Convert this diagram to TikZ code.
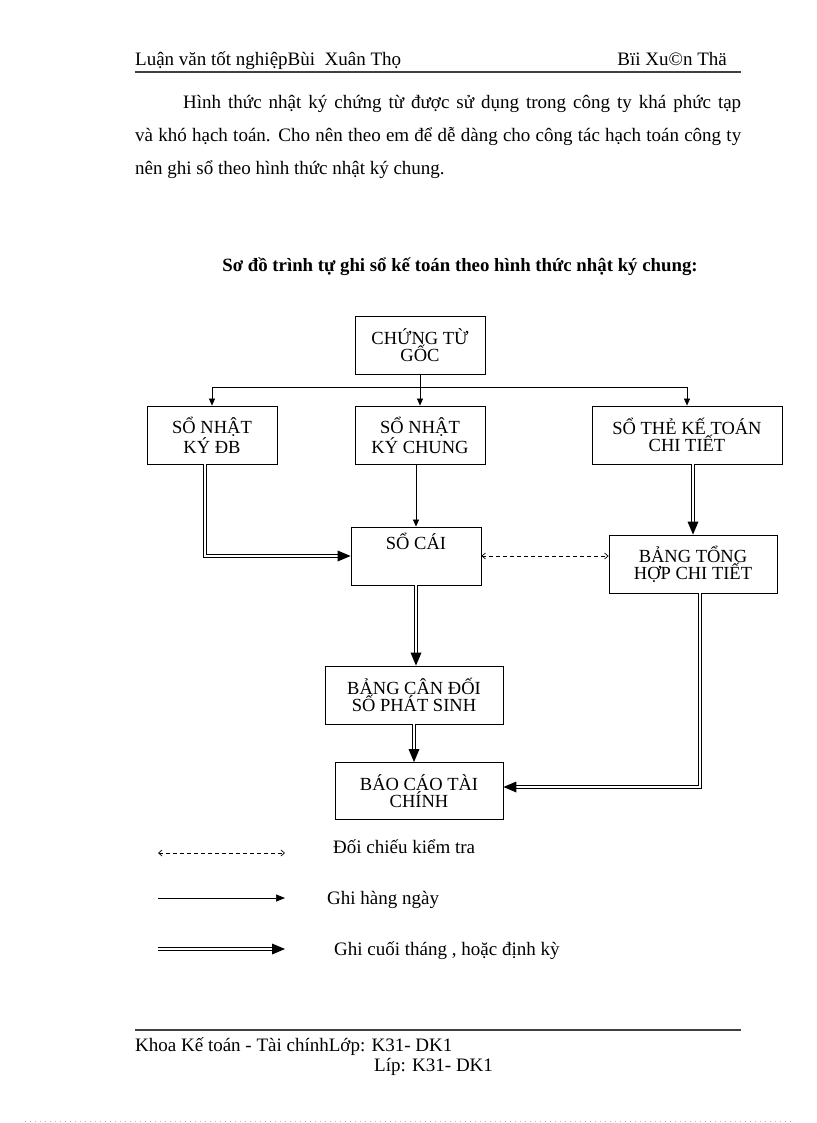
\documentclass[tikz,border=0pt]{standalone}
\usepackage{fontspec}
\setmainfont{Liberation Serif}
\usetikzlibrary{arrows.meta,decorations.markings,calc}
\tikzset{
  x=1pt,y=-1pt,
  box/.style={draw,line width=0.8pt,minimum height=58pt,inner sep=0pt,align=center,font=\fontsize{18.5}{17}\selectfont},
  txt/.style={inner sep=0pt,font=\fontsize{19}{22}\selectfont},
  sarrow/.style={line width=0.7pt,-{Triangle[length=7pt,width=6pt]}},
  darrow/.style={line width=0.7pt,dash pattern=on 4pt off 3pt,{Straight Barb[length=3.5pt,width=6pt]}-{Straight Barb[length=3.5pt,width=6pt]}},
  dline/.style={double,double distance=2.2pt,line width=0.7pt},
  dbl/.style={dline,shorten >=11pt,
    postaction={decorate,decoration={markings,
      mark=at position 1 with {\fill (0,0) -- (-13,5.5) -- (-13,-5.5) -- cycle;}}}},
}
\begin{document}
\begin{tikzpicture}
\fill[white] (0,0) rectangle (816,1123);
\useasboundingbox (0,0) rectangle (816,1123);

% header
\node[txt,anchor=base west] (hl) at (135,66) {Luận văn tốt nghiệpBùi\ \ Xuân Thọ};
\node[txt,anchor=base east] (hr) at (727,66) {Bïi Xu©n Thä};
\draw[line width=1.2pt,black!75] (135,72) coordinate (h1) -- (741,72) coordinate (h2);

% paragraph
\node[txt,anchor=base west,text width=606pt,align=justify,font=\fontsize{19}{33}\selectfont] (para) at (135,109)
{\hspace*{48pt}Hình thức nhật ký chứng từ được sử dụng trong công ty khá phức tạp\linebreak và khó hạch toán. Cho nên theo em để dễ dàng cho công tác hạch toán công ty\linebreak nên ghi sổ theo hình thức nhật ký chung.};

% title
\node[txt,anchor=base,font=\fontsize{18.8}{22}\selectfont\bfseries] (title) at (460,271) {Sơ đồ trình tự ghi sổ kế toán theo hình thức nhật ký chung:};

% boxes
\node[box,minimum width=130pt] (ct) at (420,345) {CHỨNG TỪ\\GỐC};
\node[box,minimum width=130pt] (ddb) at (212,435) {SỔ NHẬT\\KÝ ĐB};
\node[box,minimum width=130pt] (snkc) at (420,435) {SỔ NHẬT\\KÝ CHUNG};
\node[box,minimum width=190pt] (stk) at (687,435) {SỔ THẺ KẾ TOÁN\\CHI TIẾT};
\node[box,minimum width=130pt] (cai) at (416,556) {SỔ CÁI\\[8pt]\strut};
\node[box,minimum width=168pt] (bth) at (693,564) {BẢNG TỔNG\\HỢP CHI TIẾT};
\node[box,minimum width=178pt] (bcd) at (414,695) {BẢNG CÂN ĐỐI\\SỐ PHÁT SINH};
\node[box,minimum width=168pt,minimum height=57pt] (bctc) at (419,791) {BÁO CÁO TÀI\\CHÍNH};

% connectors
\coordinate (bus) at ($(ct.south)+(0,13)$);
\draw[line width=0.7pt] (ct.south) -- (bus);
\draw[line width=0.7pt] (bus -| ddb.north) -- (bus -| stk.north);
\draw[sarrow] (bus -| ddb.north) -- (ddb.north);
\draw[sarrow] (bus) -- (bus |- snkc.north);
\draw[sarrow] (bus -| stk.north) -- (stk.north);
\draw[sarrow] (snkc.south -| cai.north) -- (cai.north);
\draw[dbl] ([xshift=-7pt]ddb.south) |- (cai.west);
\draw[darrow] (cai.east) -- (cai.east -| bth.west);
\draw[dbl] (stk.south -| bth.north) -- (bth.north);
\draw[dbl] (cai.south) -- (cai.south |- bcd.north);
\draw[dbl] (bcd.south) -- (bcd.south |- bctc.north);
\draw[dbl] ([xshift=7pt]bth.south) |- ([yshift=4pt]bctc.east);

% legend
\coordinate (l1a) at (158,853); \coordinate (l1b) at (285,853);
\coordinate (l2a) at (158,898); \coordinate (l2b) at (285,898);
\coordinate (l3a) at (158,949); \coordinate (l3b) at (285,949);
\draw[darrow] (l1a) -- (l1b);
\draw[line width=0.7pt,-{Triangle[length=9pt,width=7pt]}] (l2a) -- (l2b);
\draw[dbl] (l3a) -- (l3b);
\node[txt,anchor=base west] (t1) at (333,853) {Đối chiếu kiểm tra};
\node[txt,anchor=base west] (t2) at (327,904) {Ghi hàng ngày};
\node[txt,anchor=base west] (t3) at (334,955) {Ghi cuối tháng , hoặc định kỳ};

% footer
\draw[line width=1.2pt,black!75] (135,1030) coordinate (f1) -- (741,1030) coordinate (f2);
\node[txt,anchor=base west] (ft1) at (135,1051) {Khoa Kế toán - Tài chínhLớp: K31- DK1};
\node[txt,anchor=base west] (ft2) at (374,1071) {Líp: K31- DK1};
\draw[black!30,line width=0.5pt,dash pattern=on 1pt off 4pt] (25,1121) coordinate (d1) -- (795,1121) coordinate (d2);
\end{tikzpicture}
\end{document}
